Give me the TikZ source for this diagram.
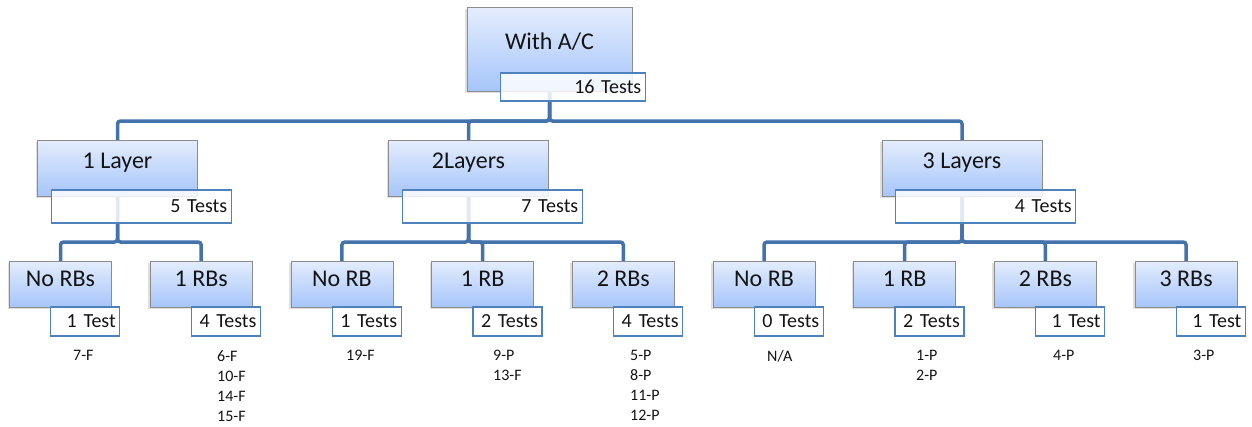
\documentclass[tikz,border=0pt]{standalone}
\usepackage{fontspec}
\setmainfont{Carlito}
\usetikzlibrary{shadows,backgrounds,calc}
\definecolor{connc}{RGB}{68,114,170}
\definecolor{boxtop}{RGB}{228,237,253}
\definecolor{boxbot}{RGB}{166,197,250}
\definecolor{boxline}{RGB}{140,140,140}
\definecolor{testline}{RGB}{79,129,189}
\definecolor{txt}{RGB}{20,20,20}
\begin{document}
\begin{tikzpicture}[x=1pt,y=-1pt,
  mainbox/.style={draw=boxline, line width=0.8pt, top color=boxtop, bottom color=boxbot,
    drop shadow={shadow xshift=-2pt,shadow yshift=-2pt,opacity=0.25}, inner sep=0},
  topbox/.style={mainbox, minimum width=165pt, minimum height=84pt},
  midbox/.style={mainbox, minimum width=160pt, minimum height=56pt},
  leafbox/.style={mainbox, minimum width=102pt, minimum height=46pt},
  boxtext/.style={inner sep=0, text=txt, font=\fontsize{24}{26}\selectfont},
  testbox/.style={draw=testline, line width=1.3pt, fill=white, fill opacity=0.85, text opacity=1,
    inner xsep=4pt, inner ysep=0pt, text=txt, font=\fontsize{20}{22}\selectfont, align=right, anchor=north west},
  toptest/.style={testbox, text width=137pt, minimum height=28pt},
  midtest/.style={testbox, text width=172pt, minimum height=33pt},
  leaftest/.style={testbox, text width=61pt, minimum height=29pt},
  listtext/.style={inner sep=0, anchor=north west, align=left, text=txt, font=\fontsize{16}{20}\selectfont},
  connector/.style={draw=connc, line width=3.5pt, rounded corners=3pt}
]
\useasboundingbox (0,0) rectangle (1252,426);

% top
\node[topbox] (top) at (549.5,49) {};
\node[boxtext] (topL) at ($(top.center)+(0,-7)$) {With A/C};

% level 1
\node[midbox] (l1) at (117.5,168) {};
\node[midbox] (l2) at (468.5,168) {};
\node[midbox] (l3) at (962,168) {};
\node[boxtext] (l1L) at ($(l1.center)+(0,-5)$) {1 Layer};
\node[boxtext] (l2L) at ($(l2.center)+(0,-5)$) {2Layers};
\node[boxtext] (l3L) at ($(l3.center)+(0,-5)$) {3 Layers};

% leaves
\node[leafbox] (la) at (60.5,284) {};
\node[leafbox] (lb) at (201.2,284) {};
\node[leafbox] (lc) at (341.9,284) {};
\node[leafbox] (ld) at (482.6,284) {};
\node[leafbox] (le) at (623.3,284) {};
\node[leafbox] (lf) at (764,284) {};
\node[leafbox] (lg) at (904.7,284) {};
\node[leafbox] (lh) at (1045.4,284) {};
\node[leafbox] (li) at (1186.1,284) {};
\node[boxtext] (laL) at ($(la.center)+(0,-5)$) {No RBs};
\node[boxtext] (lbL) at ($(lb.center)+(0,-5)$) {1 RBs};
\node[boxtext] (lcL) at ($(lc.center)+(0,-5)$) {No RB};
\node[boxtext] (ldL) at ($(ld.center)+(0,-5)$) {1 RB};
\node[boxtext] (leL) at ($(le.center)+(0,-5)$) {2 RBs};
\node[boxtext] (lfL) at ($(lf.center)+(0,-5)$) {No RB};
\node[boxtext] (lgL) at ($(lg.center)+(0,-5)$) {1 RB};
\node[boxtext] (lhL) at ($(lh.center)+(0,-5)$) {2 RBs};
\node[boxtext] (liL) at ($(li.center)+(0,-5)$) {3 RBs};

% connectors (behind)
\begin{pgfonlayer}{background}
\coordinate (bus0) at (0,121);
\coordinate (bus1) at (0,242);
\foreach \c in {l1,l2,l3}
  \draw[connector] (top.center) -- (top.center |- bus0) -| (\c.center);
\foreach \c in {la,lb}
  \draw[connector] (l1.center) -- (l1.center |- bus1) -| (\c.center);
\foreach \c in {lc,ld,le}
  \draw[connector] (l2.center) -- (l2.center |- bus1) -| (\c.center);
\foreach \c in {lf,lg,lh,li}
  \draw[connector] (l3.center) -- (l3.center |- bus1) -| (\c.center);
\end{pgfonlayer}

% tests boxes
\node[toptest] (topT) at ($(top.south west)+(33,-19)$) {16 Tests};
\node[midtest] (l1T) at ($(l1.south west)+(13.5,-7)$) {5 Tests};
\node[midtest] (l2T) at ($(l2.south west)+(13.5,-7)$) {7 Tests};
\node[midtest] (l3T) at ($(l3.south west)+(13.5,-7)$) {4 Tests};
\node[leaftest] (laT) at ($(la.south west)+(41,-1)$) {1 Test};
\node[leaftest] (lbT) at ($(lb.south west)+(41,-1)$) {4 Tests};
\node[leaftest] (lcT) at ($(lc.south west)+(41,-1)$) {1 Tests};
\node[leaftest] (ldT) at ($(ld.south west)+(41,-1)$) {2 Tests};
\node[leaftest] (leT) at ($(le.south west)+(41,-1)$) {4 Tests};
\node[leaftest] (lfT) at ($(lf.south west)+(41,-1)$) {0 Tests};
\node[leaftest] (lgT) at ($(lg.south west)+(41,-1)$) {2 Tests};
\node[leaftest] (lhT) at ($(lh.south west)+(41,-1)$) {1 Test};
\node[leaftest] (liT) at ($(li.south west)+(41,-1)$) {1 Test};

% result lists
\node[listtext] (laR) at (73,350) {7-F};
\node[listtext] (lbR) at (217,350) {6-F\\10-F\\14-F\\15-F};
\node[listtext] (lcR) at (346,350) {19-F};
\node[listtext] (ldR) at (493,350) {9-P\\13-F};
\node[listtext] (leR) at (630,350) {5-P\\8-P\\11-P\\12-P};
\node[listtext] (lfR) at (767,350) {N/A};
\node[listtext] (lgR) at (916,350) {1-P\\2-P};
\node[listtext] (lhR) at (1053,350) {4-P};
\node[listtext] (liR) at (1193,350) {3-P};
\end{tikzpicture}
\end{document}
